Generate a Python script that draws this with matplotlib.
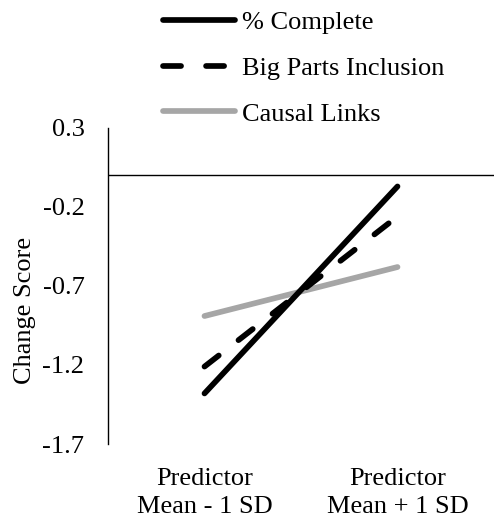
import matplotlib
matplotlib.use("Agg")
import matplotlib.pyplot as plt

categories = ["Predictor\nMean - 1 SD", "Predictor\nMean + 1 SD"]
pct_complete = [-1.38, -0.07]
big_parts = [-1.21, -0.26]
causal_links = [-0.89, -0.58]
yticks = [-1.7, -1.2, -0.7, -0.2, 0.3]

plt.rcParams.update({'font.family': 'Liberation Serif', 'font.size': 19,
                     'lines.scale_dashes': False})

fig = plt.figure(figsize=(4.94, 5.19), dpi=100)
ax = fig.add_axes([0.2186, 0.1445, 0.7814, 0.6089])

x = range(len(categories))
ax.plot(x, causal_links, color="#a6a6a6", lw=4.1, solid_capstyle="round",
        label="Causal Links")
ax.plot(x, big_parts, color="black", lw=4.1, dash_capstyle="round",
        linestyle=(0, (13, 18)), label="Big Parts Inclusion")
ax.plot(x, pct_complete, color="black", lw=4.1, solid_capstyle="round",
        label="% Complete")
ax.axhline(0, color="black", lw=1)

ax.set_xlim(-0.5, 1.5)
ax.set_ylim(-1.7, 0.3)
ax.set_yticks(yticks)
ax.set_yticklabels([f"{v:.1f}" for v in yticks])
ax.set_xticks(list(x))
ax.set_xticklabels(categories, linespacing=1.4)
ax.tick_params(axis="y", length=0, pad=17)
ax.tick_params(axis="x", length=0, pad=17)
for s in ["top", "right", "bottom"]:
    ax.spines[s].set_visible(False)
ax.spines["left"].set_linewidth(1)

ax.set_ylabel("Change Score")
ax.yaxis.set_label_coords(-0.186, 0.424)

h, l = ax.get_legend_handles_labels()
fig.legend(h[::-1], l[::-1], loc="upper left", bbox_to_anchor=(0.33, 0.979),
           frameon=False, handlelength=2.73, handletextpad=0.25,
           labelspacing=0.84, borderaxespad=0, borderpad=0)

fig.savefig("out.png", dpi=100)
